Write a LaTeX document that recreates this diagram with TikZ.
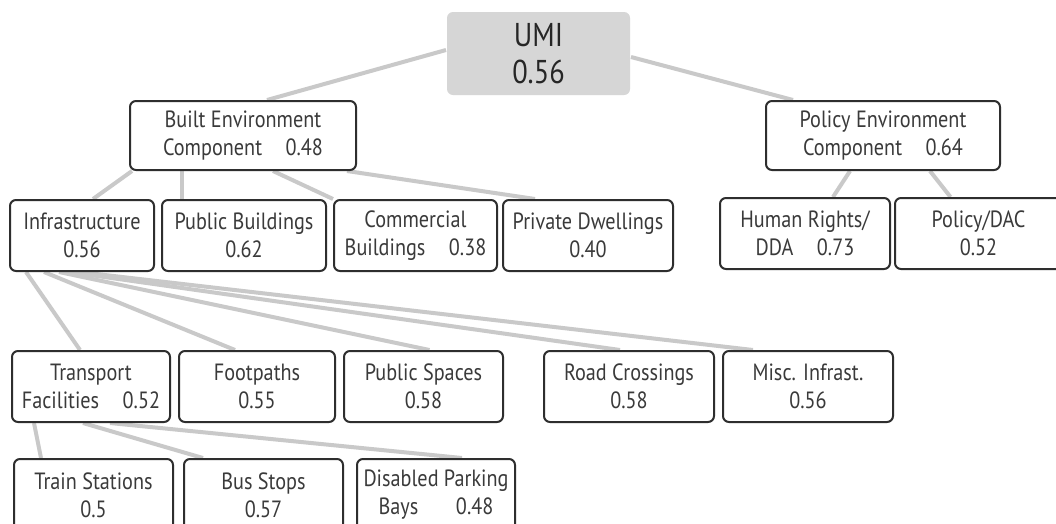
\documentclass[tikz,border=0pt]{standalone}
\usepackage{fontspec}
\setmainfont{PT Sans}[FakeStretch=0.86]
\usetikzlibrary{backgrounds}
\definecolor{boxline}{HTML}{2E2E2E}
\definecolor{boxtext}{HTML}{3A3A3A}
\definecolor{linkgray}{HTML}{C9C9C9}
\definecolor{topfill}{HTML}{D6D6D6}
\tikzset{
  box/.style={draw=boxline, line width=2pt, rounded corners=6pt, fill=white,
    inner sep=0pt, align=center, text=boxtext,
    font=\fontsize{23.5}{28}\selectfont},
  link/.style={draw=linkgray, line width=4pt}
}
\begin{document}
\begin{tikzpicture}[x=1pt,y=-1pt]
  % page frame
  \clip (0,0) rectangle (1056,523);
  % top score
  \node[box, draw=none, fill=topfill, minimum width=183pt, minimum height=83pt,
    text=black!85, font=\fontsize{33}{37}\selectfont] (umi) at (538.5,53.5) {UMI\\0.56};
  % the two components
  \node[box, minimum width=226pt, minimum height=69pt] (built) at (243,135.5)
    {Built Environment\\Component\hspace{1em}0.48};
  \node[box, minimum width=234pt, minimum height=69pt] (policy) at (883,135.5)
    {Policy Environment\\Component\hspace{1em}0.64};
  % second row
  \node[box, minimum width=144pt, minimum height=71pt] (infra) at (82,235.5) {Infrastructure\\0.56};
  \node[box, minimum width=164pt, minimum height=71pt] (pubbld) at (244,235.5) {Public Buildings\\0.62};
  \node[box, minimum width=163pt, minimum height=71pt] (comm) at (415.5,235.5) {Commercial\\Buildings\hspace{1em}0.38};
  \node[box, minimum width=170pt, minimum height=71pt] (priv) at (588,235.5) {Private Dwellings\\0.40};
  \node[box, minimum width=170pt, minimum height=71pt] (rights) at (805,233.5) {Human Rights/\\DDA\hspace{1em}0.73};
  \node[box, minimum width=167pt, minimum height=71pt] (dac) at (978.5,233.5) {Policy/DAC\\0.52};
  % third row (infrastructure parts)
  \node[box, minimum width=158pt, minimum height=71pt] (transp) at (91,386.5) {Transport\\Facilities\hspace{1em}0.52};
  \node[box, minimum width=156pt, minimum height=71pt] (foot) at (257,386.5) {Footpaths\\0.55};
  \node[box, minimum width=159pt, minimum height=71pt] (pubsp) at (423.5,386.5) {Public Spaces\\0.58};
  \node[box, minimum width=170pt, minimum height=71pt] (road) at (629,386.5) {Road Crossings\\0.58};
  \node[box, minimum width=170pt, minimum height=71pt] (misc) at (808,386.5) {Misc. Infrast.\\0.56};
  % bottom row (transport parts)
  \node[box, minimum width=159pt, minimum height=72pt] (train) at (93.5,495) {Train Stations\\0.5};
  \node[box, minimum width=159pt, minimum height=72pt] (bus) at (263.5,495) {Bus Stops\\0.57};
  \node[box, minimum width=158pt, minimum height=72pt] (park) at (436,495) {Disabled Parking\\Bays\hspace{1.6em}0.48};
  % grey links behind the boxes
  \begin{pgfonlayer}{background}
    \fill[white] (0,0) rectangle (1056,523);
    \draw[link] ([yshift=3.5pt]umi.west) -- ([xshift=24pt]built.north);
    \draw[link] ([yshift=-3.5pt]umi.east) -- ([xshift=-90pt]policy.north);
    \draw[link] ([xshift=3pt]built.south west) -- ([xshift=11pt]infra.north);
    \draw[link] ([xshift=-61pt]built.south) -- ([xshift=-62pt]pubbld.north);
    \draw[link] ([xshift=30pt]built.south) -- (comm.north west);
    \draw[link] ([xshift=-10pt]built.south east) -- ([xshift=-53pt]priv.north);
    \draw[link] ([xshift=-33pt]policy.south) -- ([xshift=28pt]rights.north);
    \draw[link] ([xshift=47pt]policy.south) -- ([xshift=-28pt]dac.north);
    \draw[link] ([xshift=17pt]infra.south west) -- ([xshift=-11pt]transp.north);
    \draw[link] ([xshift=35pt]infra.south west) -- ([xshift=-22pt]foot.north);
    \draw[link] ([xshift=50pt]infra.south west) -- ([xshift=6pt]pubsp.north);
    \draw[link] ([xshift=60pt]infra.south west) -- ([xshift=-9pt]road.north);
    \draw[link] ([xshift=70pt]infra.south west) -- ([xshift=-55pt]misc.north);
    \draw[link] ([xshift=23pt]transp.south west) -- ([xshift=28pt]train.north west);
    \draw[link] ([xshift=-8pt]transp.south) -- ([xshift=20pt]bus.north west);
    \draw[link] ([xshift=19pt]transp.south) -- ([xshift=26pt]park.north);
  \end{pgfonlayer}
\end{tikzpicture}
\end{document}
